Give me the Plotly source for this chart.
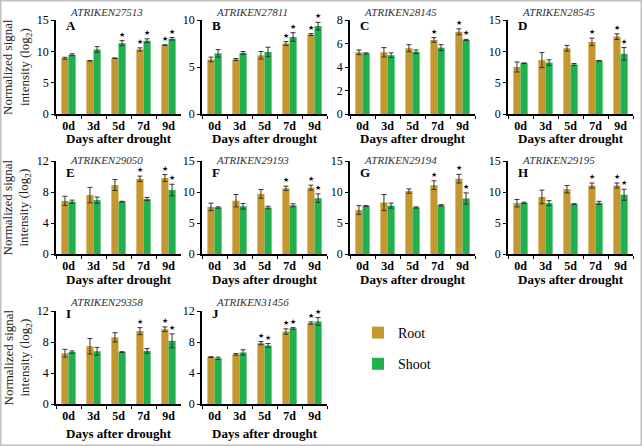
import plotly.graph_objects as go

W, H = 642, 446

days = ["0d", "3d", "5d", "7d", "9d"]
genes = ["ATRIKEN27513", "ATRIKEN27811", "ATRIKEN28145", "ATRIKEN28545", "ATRIKEN29050",
         "ATRIKEN29193", "ATRIKEN29194", "ATRIKEN29195", "ATRIKEN29358", "ATRIKEN31456"]
letters = ["A", "B", "C", "D", "E", "F", "G", "H", "I", "J"]

root_vals = [
    [8.9, 8.5, 8.9, 10.3, 11.0],
    [5.8, 5.8, 6.25, 7.5, 8.45],
    [5.25, 5.25, 5.6, 6.3, 7.0],
    [7.5, 8.6, 10.5, 11.5, 12.35],
    [6.85, 7.6, 8.9, 9.7, 9.8],
    [7.6, 8.6, 9.7, 10.6, 10.7],
    [7.1, 8.3, 10.15, 11.1, 12.15],
    [8.2, 9.2, 10.45, 11.05, 11.05],
    [6.55, 7.45, 8.6, 9.4, 9.65],
    [6.05, 6.4, 7.85, 9.35, 10.45],
]
root_err = [
    [0.15, 0.05, 0.05, 0.25, 0.05],
    [0.25, 0.1, 0.4, 0.2, 0.1],
    [0.2, 0.4, 0.3, 0.2, 0.25],
    [0.8, 1.2, 0.45, 0.6, 0.45],
    [0.6, 1.0, 0.7, 0.35, 0.45],
    [0.6, 1.0, 0.7, 0.35, 0.4],
    [0.7, 1.3, 0.35, 0.7, 0.7],
    [0.6, 1.1, 0.6, 0.4, 0.4],
    [0.5, 1.0, 0.6, 0.45, 0.3],
    [0.05, 0.1, 0.2, 0.35, 0.15],
]
shoot_vals = [
    [9.45, 10.3, 11.3, 11.7, 12.0],
    [6.45, 6.5, 6.6, 8.2, 9.35],
    [5.15, 5.0, 5.3, 5.65, 6.3],
    [8.1, 8.2, 7.9, 8.5, 9.6],
    [6.75, 6.95, 6.75, 7.1, 8.25],
    [7.5, 7.7, 7.5, 7.85, 9.0],
    [7.75, 7.8, 7.5, 7.85, 8.95],
    [8.25, 8.2, 8.05, 8.25, 9.55],
    [6.7, 6.8, 6.7, 6.85, 8.15],
    [5.9, 6.65, 7.55, 9.75, 10.65],
]
shoot_err = [
    [0.15, 0.45, 0.4, 0.3, 0.2],
    [0.4, 0.15, 0.5, 0.45, 0.4],
    [0.05, 0.2, 0.15, 0.25, 0.05],
    [0.05, 0.45, 0.15, 0.05, 1.0],
    [0.2, 0.4, 0.05, 0.2, 0.75],
    [0.1, 0.45, 0.2, 0.25, 0.7],
    [0.05, 0.4, 0.1, 0.1, 0.9],
    [0.1, 0.4, 0.05, 0.25, 0.9],
    [0.15, 0.5, 0.05, 0.3, 0.9],
    [0.15, 0.35, 0.25, 0.1, 0.5],
]
root_star = [
    [0, 0, 0, 1, 1], [0, 0, 0, 1, 1], [0, 0, 0, 1, 1], [0, 0, 0, 1, 1], [0, 0, 0, 1, 1],
    [0, 0, 0, 1, 1], [0, 0, 0, 1, 1], [0, 0, 0, 1, 1], [0, 0, 0, 1, 1], [0, 0, 1, 1, 1],
]
shoot_star = [
    [0, 0, 1, 1, 1], [0, 0, 0, 1, 1], [0, 0, 0, 0, 1], [0, 0, 0, 0, 1], [0, 0, 0, 0, 1],
    [0, 0, 0, 0, 1], [0, 0, 0, 0, 1], [0, 0, 0, 0, 1], [0, 0, 0, 0, 1], [0, 0, 1, 1, 1],
]
y_max = [15, 10, 8, 15, 12, 15, 15, 15, 12, 12]
y_dtick = [5, 5, 2, 5, 4, 5, 5, 5, 4, 4]

ROOT_C = "#C4982F"
SHOOT_C = "#20B04E"
SERIF = "Liberation Serif, Times New Roman, serif"

# layout geometry (pixels)
col_x0 = [56, 202, 350, 508]
col_w = 125
row_top = [20, 161, 311]
row_zero = [114, 254, 404]
xtitle_off = [24, 25, 29]
title_off = [-8, -1, -9]
letter_off = [5, 11, 2]

fig = go.Figure()
annotations = []

def px2x(p):
    return p / W

def py2y(p):
    return 1 - p / H

for i in range(10):
    r, c = divmod(i, 4)
    n = i + 1
    xa = "x" if n == 1 else f"x{n}"
    ya = "y" if n == 1 else f"y{n}"
    fig.add_trace(go.Bar(
        x=days, y=root_vals[i], name="Root", marker_color=ROOT_C, marker_line_width=0,
        error_y=dict(type="data", array=root_err[i], color="#333333", thickness=1, width=2.5),
        xaxis=xa, yaxis=ya, showlegend=(i == 0), legendgroup="root", offsetgroup="r"))
    fig.add_trace(go.Bar(
        x=days, y=shoot_vals[i], name="Shoot", marker_color=SHOOT_C, marker_line_width=0,
        error_y=dict(type="data", array=shoot_err[i], color="#333333", thickness=1, width=2.5),
        xaxis=xa, yaxis=ya, showlegend=(i == 0), legendgroup="shoot", offsetgroup="s"))

    x0 = col_x0[c]
    x1 = x0 + col_w
    dom_x = [px2x(x0), px2x(x1)]
    dom_y = [py2y(row_zero[r]), py2y(row_top[r])]
    axis_common = dict(showline=True, linecolor="black", linewidth=1.5, showgrid=False,
                       zeroline=False, ticks="outside", tickwidth=1.2, tickcolor="black",
                       automargin=False, fixedrange=True)
    fig.update_layout(**{
        ("xaxis" if n == 1 else f"xaxis{n}"): dict(
            domain=dom_x, anchor=ya, type="category", tickson="boundaries", ticklen=3,
            tickfont=dict(family=SERIF, size=12, color="black", weight="bold"),
            **axis_common),
        ("yaxis" if n == 1 else f"yaxis{n}"): dict(
            domain=dom_y, anchor=xa, range=[0, y_max[i]], dtick=y_dtick[i], ticklen=3,
            tickfont=dict(family=SERIF, size=12, color="black"),
            **axis_common),
    })

    # gene title
    annotations.append(dict(
        text=genes[i], xref="paper", yref="paper", x=px2x(x0 + 50),
        y=py2y(row_top[r] + title_off[r]),
        xanchor="center", yanchor="middle", showarrow=False,
        font=dict(family=SERIF, size=11, color="#333333", style="italic")))
    # panel letter
    annotations.append(dict(
        text=letters[i], xref="paper", yref="paper", x=px2x(x0 + 8),
        y=py2y(row_top[r] + letter_off[r]),
        xanchor="left", yanchor="middle", showarrow=False,
        font=dict(family=SERIF, size=13, color="black", weight="bold")))
    # x-axis title
    annotations.append(dict(
        text="Days after drought", xref="paper", yref="paper", x=px2x(x0 + col_w / 2),
        y=py2y(row_zero[r] + xtitle_off[r]), xanchor="center", yanchor="middle", showarrow=False,
        font=dict(family=SERIF, size=13, color="black", weight="bold")))
    # significance stars
    for k, d in enumerate(days):
        if root_star[i][k]:
            annotations.append(dict(
                text="★", x=d, y=root_vals[i][k] + root_err[i][k], xref=xa, yref=ya,
                xshift=-3.5, yshift=0, xanchor="center", yanchor="bottom", showarrow=False,
                font=dict(size=7, color="black")))
        if shoot_star[i][k]:
            annotations.append(dict(
                text="★", x=d, y=shoot_vals[i][k] + shoot_err[i][k], xref=xa, yref=ya,
                xshift=3.5, yshift=0, xanchor="center", yanchor="bottom", showarrow=False,
                font=dict(size=7, color="black")))

# y-axis titles for the first column
for r in range(3):
    annotations.append(dict(
        text="Normalized signal<br>intensity (log<sub>2</sub>)", xref="paper", yref="paper",
        x=px2x(17), y=py2y((row_top[r] + row_zero[r]) / 2), xanchor="center", yanchor="middle",
        textangle=-90, showarrow=False,
        font=dict(family=SERIF, size=13, color="#222222")))

fig.update_layout(
    width=W, height=H, margin=dict(l=0, r=0, t=0, b=0, pad=0, autoexpand=False),
    paper_bgcolor="white", plot_bgcolor="white",
    barmode="group", bargap=0.43, bargroupgap=0,
    annotations=annotations,
    showlegend=True,
    legend=dict(x=px2x(358), y=py2y(317), xanchor="left", yanchor="top",
                font=dict(family=SERIF, size=14, color="black"),
                tracegroupgap=10, bgcolor="rgba(0,0,0,0)"),
    shapes=[dict(type="rect", xref="paper", yref="paper", x0=0, y0=0, x1=1, y1=1,
                 line=dict(color="#C0C0C0", width=3), fillcolor="rgba(0,0,0,0)")],
)

fig.write_html("out.html", config={"displayModeBar": False, "responsive": False},
               post_script="document.body.style.margin='0';document.body.style.padding='0';"
                           "document.documentElement.style.overflow='hidden';")
